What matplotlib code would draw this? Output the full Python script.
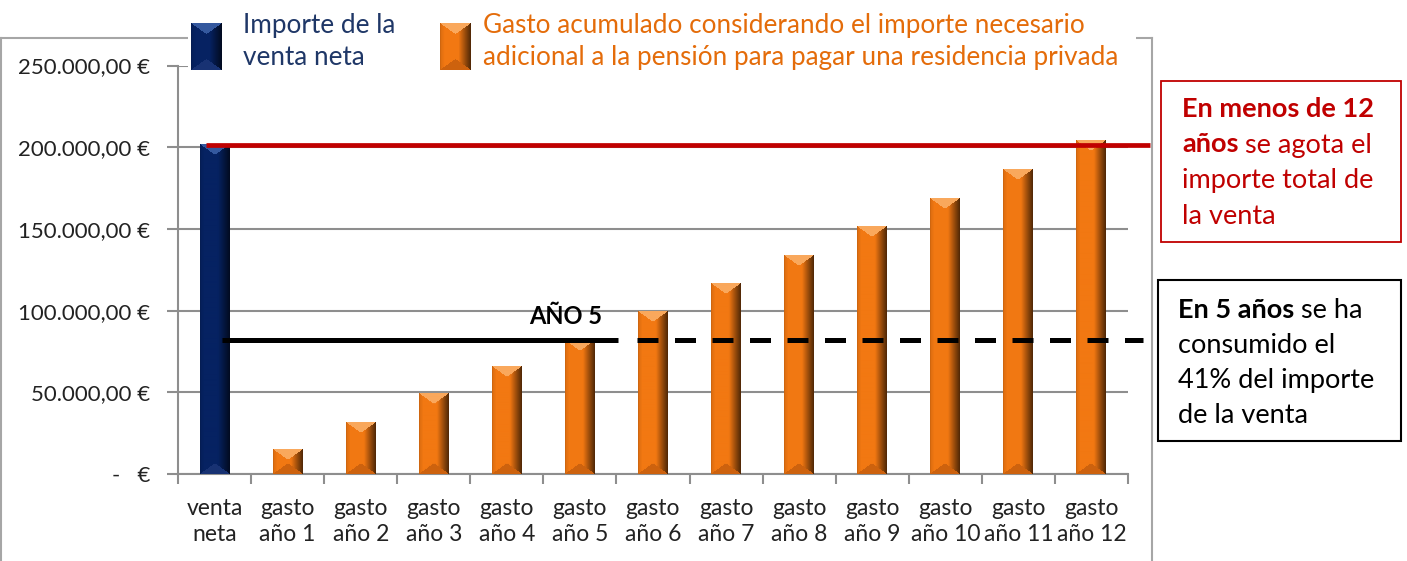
import numpy as np
import matplotlib
matplotlib.use("Agg")
import matplotlib.pyplot as plt
from matplotlib.patches import Rectangle
from matplotlib.lines import Line2D

# ---------------- data ----------------
categories = ['venta\nneta', 'gasto\naño 1', 'gasto\naño 2', 'gasto\naño 3', 'gasto\naño 4',
              'gasto\naño 5', 'gasto\naño 6', 'gasto\naño 7', 'gasto\naño 8', 'gasto\naño 9',
              'gasto\naño 10', 'gasto\naño 11', 'gasto\naño 12']
venta_neta = [201500]
gasto_acumulado = [15100, 31800, 49100, 65600, 82000, 99200, 116500,
                   134000, 151400, 168700, 186600, 204000]
limite_venta = 201500
consumo_anio_5 = 82000
yticks = [0, 50000, 100000, 150000, 200000, 250000]
ytick_labels = ['-   €', '50.000,00 €', '100.000,00 €', '150.000,00 €',
                '200.000,00 €', '250.000,00 €']
legend_labels = [['Importe de la', 'venta neta'],
                 ['Gasto acumulado considerando el importe necesario',
                  'adicional a la pensión para pagar una residencia privada']]
label_anio5 = 'AÑO 5'

# ---------------- figure ----------------
W, H = 1407, 561
fig = plt.figure(figsize=(W / 100, H / 100), dpi=100)
fig.patch.set_facecolor('white')
FONT = 'Lato'


def fx(px):
    return px / W


def fy(py):
    return 1 - py / H


ax_left, ax_right, ax_bottom, ax_top = 178, 1128, 474, 65.5
ax = fig.add_axes([fx(ax_left), fy(ax_bottom), fx(ax_right) - fx(ax_left),
                   (ax_bottom - ax_top) / H])
ymax = 250000
px_per_unit = (ax_bottom - ax_top) / ymax

NAVY = dict(base=(6, 34, 98), top=(52, 88, 158), bot=(24, 50, 115))
ORANGE = dict(base=(242, 120, 18), top=(250, 168, 92), bot=(205, 98, 14))


def bevel_image(hpx, wpx, pal):
    rows = max(int(round(hpx)), 2)
    cols = max(int(round(wpx)), 2)
    u = (np.arange(cols) + 0.5) / cols
    prof = np.interp(u, [0, 0.05, 0.15, 0.6, 0.82, 1.0],
                     [0.82, 0.93, 1.0, 1.0, 0.62, 0.32])
    base = np.array(pal['base']) / 255.0
    img = np.ones((rows, cols, 3)) * base[None, None, :] * prof[None, :, None]
    r = np.arange(rows)[:, None] + 0.5
    c = np.arange(cols)[None, :] + 0.5
    d = np.minimum(c, cols - c)
    slope = 0.72
    top_mask = r < d * slope
    bot_mask = (rows - r) < d * slope
    topc = np.array(pal['top']) / 255.0
    botc = np.array(pal['bot']) / 255.0
    img[bot_mask] = botc
    img[top_mask] = topc
    return np.clip(img, 0, 1)


bar_w = 0.41
cat_px = (ax_right - ax_left) / len(categories)


def draw_bar(x, h, pal):
    img = bevel_image(h * px_per_unit, bar_w * cat_px, pal)
    ax.imshow(img, extent=[x - bar_w / 2, x + bar_w / 2, 0, h], aspect='auto',
              interpolation='bilinear', zorder=3)


xpos = np.arange(len(categories))
for i, v in enumerate(venta_neta):
    draw_bar(xpos[i], v, NAVY)
for i, v in enumerate(gasto_acumulado):
    draw_bar(xpos[i + len(venta_neta)], v, ORANGE)

ax.set_xlim(-0.5, len(categories) - 0.5)
ax.set_ylim(0, ymax)
ax.set_aspect('auto')

# grid and axes
GRID = '#8E8E8E'
ax.set_yticks(yticks)
ax.set_yticklabels(ytick_labels, fontsize=16, family=FONT, color='#222222')
ax.yaxis.grid(True, color=GRID, linewidth=1.5)
ax.set_axisbelow(True)
ax.set_xticks(xpos)
ax.set_xticklabels(categories, fontsize=16.5, family=FONT, color='#222222',
                   linespacing=1.32)
ax.set_xticks(np.arange(-0.5, len(categories)), minor=True)
ax.tick_params(axis='x', which='major', length=0, pad=17)
ax.tick_params(axis='x', which='minor', length=7, width=1.5, color=GRID)
ax.tick_params(axis='y', length=8, width=1.5, color=GRID, pad=12)
for s in ['top', 'right']:
    ax.spines[s].set_visible(False)
for s in ['left', 'bottom']:
    ax.spines[s].set_color(GRID)
    ax.spines[s].set_linewidth(1.5)

# reference lines
ax.hlines(limite_venta, -0.12, 12.8, color='#C00000', linewidth=3.4, zorder=5,
          clip_on=False)
ax.hlines(consumo_anio_5, 0.1, 5.52, color='black', linewidth=3.6, zorder=5,
          clip_on=False)
ax.plot([5.78, 12.7], [consumo_anio_5] * 2, color='black', linewidth=3.6,
        dashes=(4.2, 3.3), zorder=5, clip_on=False, solid_capstyle='butt',
        dash_capstyle='butt')
ax.text(4.81, 92000, label_anio5, fontsize=17, fontweight='bold', family=FONT,
        ha='center', va='baseline', color='black', zorder=6)

# chart border
border_c = '#A6A6A6'
fig.add_artist(Line2D([fx(0), fx(1152)], [fy(38), fy(38)], color=border_c, lw=1.5))
fig.add_artist(Line2D([fx(1), fx(1)], [fy(38), fy(561)], color=border_c, lw=1.5))
fig.add_artist(Line2D([fx(1152), fx(1152)], [fy(38), fy(561)], color=border_c, lw=1.5))

# legend background
fig.add_artist(Rectangle((fx(188), fy(70)), fx(1136) - fx(188), fy(0) - fy(70),
                         transform=fig.transFigure, facecolor='white',
                         edgecolor='none', zorder=2))


def legend_patch(x0, pal):
    lax = fig.add_axes([fx(x0), fy(70), fx(30.5), 47 / H], zorder=5)
    lax.imshow(bevel_image(47, 31, pal), aspect='auto', interpolation='bilinear')
    lax.axis('off')


legend_patch(191, NAVY)
legend_patch(440, ORANGE)
LBLUE = '#1F3767'
LORANGE = '#E46C0A'
for j, line in enumerate(legend_labels[0]):
    fig.text(fx(243), fy(33 + 32 * j), line, fontsize=18.8, family=FONT,
             color=LBLUE, va='baseline', ha='left', zorder=4)
for j, line in enumerate(legend_labels[1]):
    fig.text(fx(483), fy(33 + 32 * j), line, fontsize=18.8, family=FONT,
             color=LORANGE, va='baseline', ha='left', zorder=4)

# annotation boxes
RED = '#C00000'
fig.add_artist(Rectangle((fx(1161), fy(242)), fx(1400.5) - fx(1161), fy(81) - fy(242),
                         transform=fig.transFigure, facecolor='white',
                         edgecolor=RED, lw=1.3, zorder=2))
fig.add_artist(Rectangle((fx(1158), fy(441)), fx(1400.5) - fx(1158), fy(280) - fy(441),
                         transform=fig.transFigure, facecolor='white',
                         edgecolor='black', lw=1.5, zorder=2))

fig.canvas.draw()
renderer = fig.canvas.get_renderer()


def rich_line(x_px, y_px, segments, size, color):
    x = x_px
    for text, weight in segments:
        t = fig.text(fx(x), fy(y_px), text, fontsize=size, fontweight=weight,
                     color=color, family=FONT, va='baseline', ha='left', zorder=4)
        bb = t.get_window_extent(renderer)
        x += bb.width


box_size = 19.5
red_lines = [[('En menos de 12', 'bold')],
             [('años', 'bold'), (' se agota el', 'normal')],
             [('importe total de', 'normal')],
             [('la venta', 'normal')]]
for j, segs in enumerate(red_lines):
    rich_line(1182, 117 + 35.5 * j, segs, box_size, RED)

black_lines = [[('En 5 años', 'bold'), (' se ha', 'normal')],
               [('consumido el', 'normal')],
               [('41% del importe', 'normal')],
               [('de la venta', 'normal')]]
for j, segs in enumerate(black_lines):
    rich_line(1178, 318 + 35 * j, segs, box_size, 'black')

fig.savefig('out.png', dpi=100, facecolor='white')
